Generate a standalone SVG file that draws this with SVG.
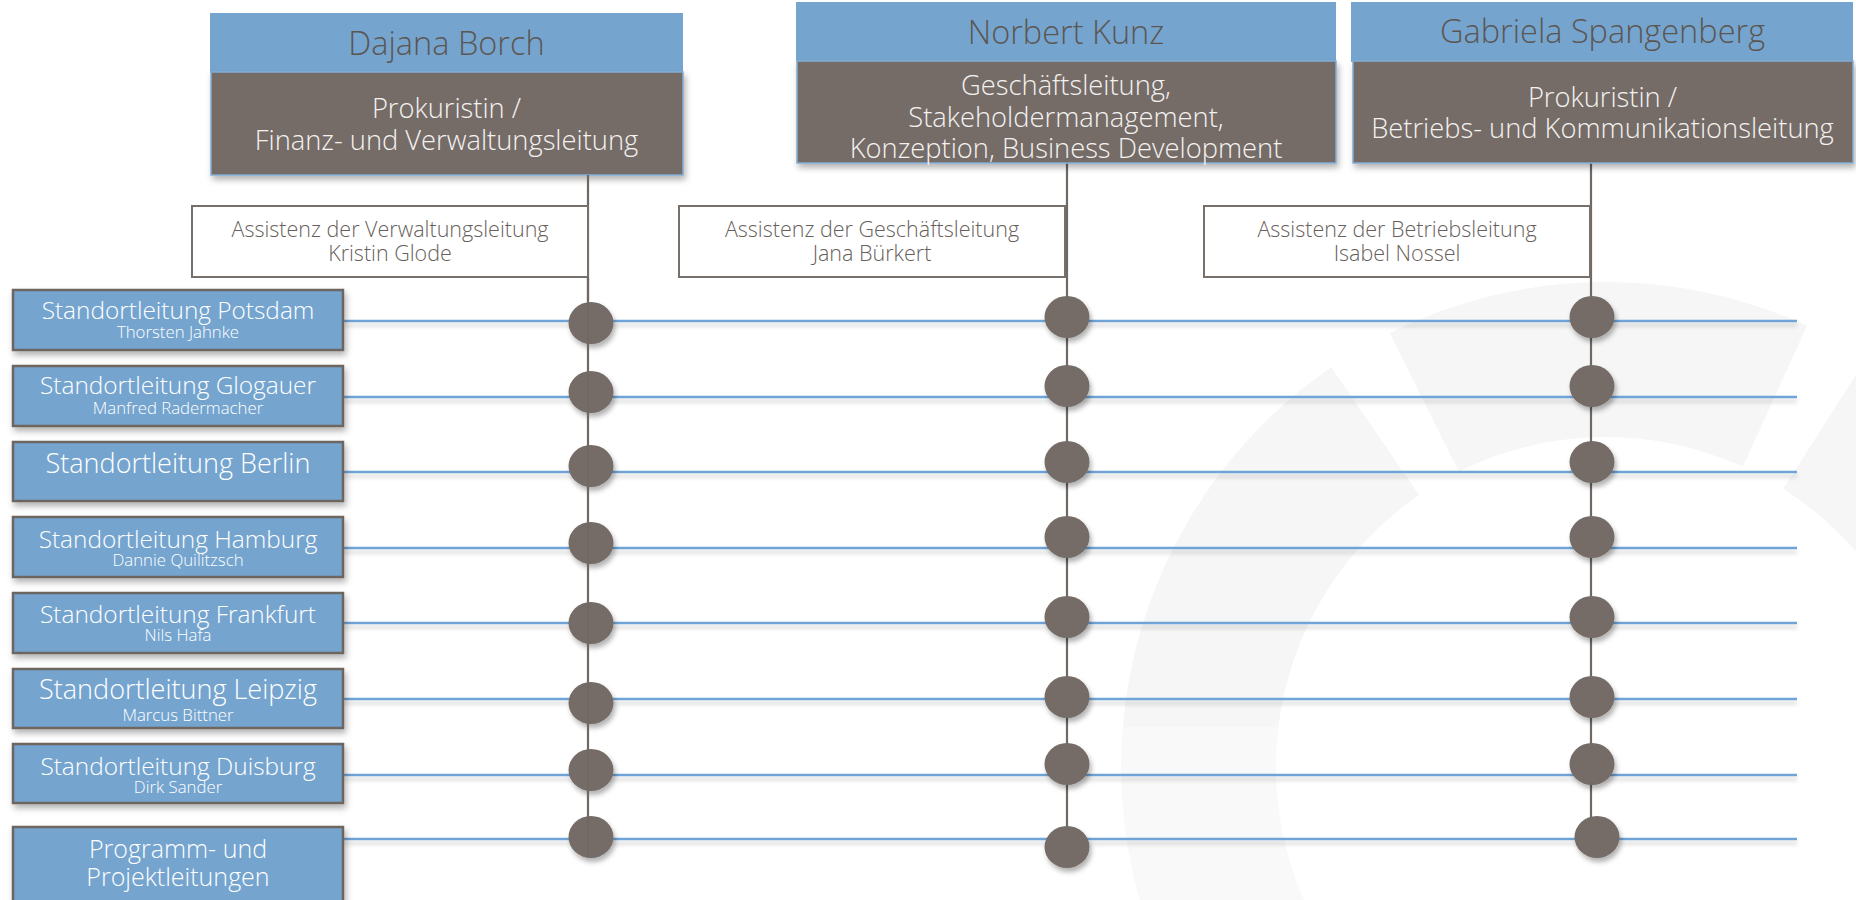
<svg xmlns="http://www.w3.org/2000/svg" width="1856" height="900" viewBox="0 0 1856 900">
<defs>
<filter id="sh" x="-10%" y="-20%" width="125%" height="150%">
<feDropShadow dx="2" dy="4" stdDeviation="3" flood-color="#000" flood-opacity="0.3"/>
</filter>
<filter id="shd" x="-40%" y="-40%" width="190%" height="190%">
<feDropShadow dx="2" dy="4" stdDeviation="2.5" flood-color="#000" flood-opacity="0.3"/>
</filter>
<filter id="shl" x="-5%" y="-300%" width="110%" height="800%">
<feDropShadow dx="0" dy="4" stdDeviation="2" flood-color="#000" flood-opacity="0.18"/>
</filter>
<style>
text{font-family:"Open Sans","Liberation Sans",sans-serif;font-weight:300;text-anchor:middle}
.hb{fill:#75a5cf}
.hg{fill:#746c67;stroke:#82acd4;stroke-width:1.5}
.hn{font-size:32.5px;fill:#5c5652}
.hr{font-size:27.3px;fill:#f4f2f0}
.ab{fill:#fff;stroke:#766f6a;stroke-width:2}
.at{font-size:21.5px;fill:#675f5b}
.sb{fill:#75a5cf;stroke:#6d6661;stroke-width:2.5}
.st{font-size:24.4px;fill:#fff}
.ss{font-size:16.8px;fill:#fff}
.hl{stroke:#6fa3d6;stroke-width:2.5;fill:none}
.vl{stroke:#6f6863;stroke-width:2.2;fill:none}
.dot{fill:#746c67}
.wm1{fill:#f6f6f6}
.wm2{fill:#f9f9f9}
</style>
</defs>
<rect width="1856" height="900" fill="#fff"/>
<g id="watermark">
<path class="wm1" d="M1389.6 333 A485 485 0 0 1 1807.1 325.7 L1742.9 466.7 A330 330 0 0 0 1458.8 471.7 Z"/>
<path class="wm1" d="M1866.6 358 A485 485 0 0 1 2083.6 851.2 L1931 824.3 A330 330 0 0 0 1783.3 488.7 Z"/>
<path class="wm1" d="M1122.7 727 A485 485 0 0 1 1331.3 367.3 L1419.1 495 A330 330 0 0 0 1278.4 727 Z"/>
<path class="wm2" d="M1186 1009.5 A485 485 0 0 1 1122.7 727 L1278.4 727 A330 330 0 0 0 1320.2 932 Z"/>
</g>
<g id="connectors">
<g filter="url(#shl)">
<line class="hl" x1="343" y1="321" x2="1797" y2="321"/>
<line class="hl" x1="343" y1="397" x2="1797" y2="397"/>
<line class="hl" x1="343" y1="472" x2="1797" y2="472"/>
<line class="hl" x1="343" y1="548" x2="1797" y2="548"/>
<line class="hl" x1="343" y1="623" x2="1797" y2="623"/>
<line class="hl" x1="343" y1="699" x2="1797" y2="699"/>
<line class="hl" x1="343" y1="775" x2="1797" y2="775"/>
<line class="hl" x1="343" y1="839" x2="1797" y2="839"/>
</g>
<line class="vl" x1="1067" y1="163" x2="1067" y2="830"/>
<line class="vl" x1="1591" y1="163" x2="1591" y2="820"/>
</g>
<g id="node-dajana">
<rect class="hb" x="210" y="13" width="473" height="60"/>
<rect class="hg" x="211" y="72" width="472" height="103" filter="url(#sh)"/>
<text class="hn" x="446.5" y="55">Dajana Borch</text>
<text class="hr" x="446.5" y="118">Prokuristin /</text>
<text class="hr" x="446.5" y="150">Finanz- und Verwaltungsleitung</text>
</g>
<g id="node-norbert">
<rect class="hb" x="796" y="2" width="540" height="60"/>
<rect class="hg" x="797" y="61" width="539" height="102" filter="url(#sh)"/>
<text class="hn" x="1066" y="44">Norbert Kunz</text>
<text class="hr" x="1066" y="95">Geschäftsleitung,</text>
<text class="hr" x="1066" y="127">Stakeholdermanagement,</text>
<text class="hr" x="1066" y="158">Konzeption, Business Development</text>
</g>
<g id="node-gabriela">
<rect class="hb" x="1351" y="2" width="502" height="60"/>
<rect class="hg" x="1353" y="61" width="500" height="102" filter="url(#sh)"/>
<text class="hn" x="1602.5" y="43">Gabriela Spangenberg</text>
<text class="hr" x="1602.5" y="107">Prokuristin /</text>
<text class="hr" x="1602.5" y="138">Betriebs- und Kommunikationsleitung</text>
</g>
<g id="connector-col1-top">
<line class="vl" x1="588" y1="175" x2="588" y2="300"/>
</g>
<g id="node-assist-verwaltung">
<rect class="ab" x="192" y="206" width="396" height="71"/>
<text class="at" x="390" y="237">Assistenz der Verwaltungsleitung</text>
<text class="at" x="390" y="261">Kristin Glode</text>
</g>
<g id="node-assist-geschaeft">
<rect class="ab" x="679" y="206" width="386" height="71"/>
<text class="at" x="872" y="237">Assistenz der Geschäftsleitung</text>
<text class="at" x="872" y="261">Jana Bürkert</text>
</g>
<g id="node-assist-betrieb">
<rect class="ab" x="1204" y="206" width="386" height="71"/>
<text class="at" x="1397" y="237">Assistenz der Betriebsleitung</text>
<text class="at" x="1397" y="261">Isabel Nossel</text>
</g>
<g id="node-potsdam">
<rect class="sb" x="13" y="290" width="330" height="60" filter="url(#sh)"/>
<text class="st" x="178" y="319">Standortleitung Potsdam</text>
<text class="ss" x="178" y="338">Thorsten Jahnke</text>
</g>
<g id="node-glogauer">
<rect class="sb" x="13" y="366" width="330" height="60" filter="url(#sh)"/>
<text class="st" x="178" y="394">Standortleitung Glogauer</text>
<text class="ss" x="178" y="414">Manfred Radermacher</text>
</g>
<g id="node-berlin">
<rect class="sb" x="13" y="442" width="330" height="59" filter="url(#sh)"/>
<text class="st" x="178" y="473" style="font-size:27px">Standortleitung Berlin</text>
</g>
<g id="node-hamburg">
<rect class="sb" x="13" y="517" width="330" height="60" filter="url(#sh)"/>
<text class="st" x="178" y="548">Standortleitung Hamburg</text>
<text class="ss" x="178" y="566">Dannie Quilitzsch</text>
</g>
<g id="node-frankfurt">
<rect class="sb" x="13" y="593" width="330" height="60" filter="url(#sh)"/>
<text class="st" x="178" y="623">Standortleitung Frankfurt</text>
<text class="ss" x="178" y="641">Nils Hafa</text>
</g>
<g id="node-leipzig">
<rect class="sb" x="13" y="669" width="330" height="59" filter="url(#sh)"/>
<text class="st" x="178" y="699" style="font-size:27px">Standortleitung Leipzig</text>
<text class="ss" x="178" y="721">Marcus Bittner</text>
</g>
<g id="node-duisburg">
<rect class="sb" x="13" y="744" width="330" height="59" filter="url(#sh)"/>
<text class="st" x="178" y="775">Standortleitung Duisburg</text>
<text class="ss" x="178" y="793">Dirk Sander</text>
</g>
<g id="node-programm">
<rect class="sb" x="13" y="827" width="330" height="90" filter="url(#sh)"/>
<text class="st" x="178" y="858" style="font-size:25px">Programm- und</text>
<text class="st" x="178" y="886" style="font-size:25px">Projektleitungen</text>
</g>
<g id="junctions" filter="url(#shd)">
<ellipse class="dot" cx="591" cy="323" rx="22.5" ry="21"/>
<ellipse class="dot" cx="591" cy="392" rx="22.5" ry="21"/>
<ellipse class="dot" cx="591" cy="466" rx="22.5" ry="21"/>
<ellipse class="dot" cx="591" cy="543" rx="22.5" ry="21"/>
<ellipse class="dot" cx="591" cy="623" rx="22.5" ry="21"/>
<ellipse class="dot" cx="591" cy="703" rx="22.5" ry="21"/>
<ellipse class="dot" cx="591" cy="770" rx="22.5" ry="21"/>
<ellipse class="dot" cx="591" cy="837" rx="22.5" ry="21"/>
<ellipse class="dot" cx="1067" cy="317" rx="22.5" ry="21"/>
<ellipse class="dot" cx="1067" cy="386" rx="22.5" ry="21"/>
<ellipse class="dot" cx="1067" cy="462" rx="22.5" ry="21"/>
<ellipse class="dot" cx="1067" cy="537" rx="22.5" ry="21"/>
<ellipse class="dot" cx="1067" cy="617" rx="22.5" ry="21"/>
<ellipse class="dot" cx="1067" cy="697" rx="22.5" ry="21"/>
<ellipse class="dot" cx="1067" cy="764" rx="22.5" ry="21"/>
<ellipse class="dot" cx="1067" cy="847" rx="22.5" ry="21"/>
<ellipse class="dot" cx="1592" cy="317" rx="22.5" ry="21"/>
<ellipse class="dot" cx="1592" cy="386" rx="22.5" ry="21"/>
<ellipse class="dot" cx="1592" cy="462" rx="22.5" ry="21"/>
<ellipse class="dot" cx="1592" cy="537" rx="22.5" ry="21"/>
<ellipse class="dot" cx="1592" cy="617" rx="22.5" ry="21"/>
<ellipse class="dot" cx="1592" cy="697" rx="22.5" ry="21"/>
<ellipse class="dot" cx="1592" cy="764" rx="22.5" ry="21"/>
<ellipse class="dot" cx="1597" cy="837" rx="22.5" ry="21"/>
</g>
<g id="connectors-front">
<line class="vl" x1="588" y1="277" x2="588" y2="857" stroke="#645d58"/>
</g>
</svg>
